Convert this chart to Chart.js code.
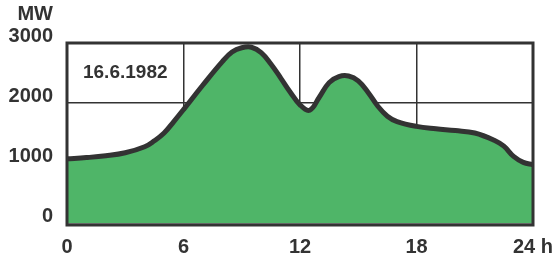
<!DOCTYPE html>
<html>
<head>
<meta charset="utf-8">
<script src="https://cdn.jsdelivr.net/npm/chart.js@4"></script>
<style>
    html, body { margin: 0; padding: 0; background: #ffffff; }
    #wrap { width: 553px; height: 261px; }
</style>
</head>
<body>
<div id="wrap"><canvas id="loadChart" width="553" height="261"></canvas></div>
<script>
// Load curve, 16.6.1982 (hours vs MW)
const hours = [0, 1, 2, 3, 4, 4.5, 5, 5.5, 6, 7, 8, 8.5, 9, 9.5, 10, 10.5, 11, 11.5, 12,
    12.5, 13, 13.5, 14, 14.5, 15, 15.5, 16, 16.5, 17, 18, 19, 20, 21, 22, 22.5, 23, 23.5, 24];
const loadMW = [1070, 1090, 1120, 1170, 1270, 1370, 1500, 1690, 1890, 2300, 2690, 2850, 2920, 2930, 2840, 2650, 2420, 2180, 1970,
    1880, 2100, 2340, 2440, 2450, 2370, 2180, 1950, 1780, 1690, 1610, 1570, 1540, 1500, 1380, 1280, 1110, 1010, 970];
const xTicks = [0, 6, 12, 18, 24];
const yTicks = [0, 1000, 2000, 3000];
const dateLabel = '16.6.1982';
const unitLabel = 'MW';

const textColor = '#333333';
const lineColor = '#333333';
const fillColor = '#4fb568';
const tickFont = { family: 'Liberation Sans', size: 20, weight: 'bold' };

// Extra labels: unit above y axis, date in the top-left box
const labelsPlugin = {
    id: 'labels',
    afterDraw(chart) {
        const ctx = chart.ctx;
        const area = chart.chartArea;
        const x = chart.scales.x;
        const y = chart.scales.y;
        ctx.save();
        ctx.fillStyle = textColor;
        ctx.font = 'bold 20px "Liberation Sans"';
        ctx.textAlign = 'right';
        ctx.textBaseline = 'middle';
        ctx.fillText(unitLabel, 53, 14);
        ctx.font = 'bold 19px "Liberation Sans"';
        ctx.textAlign = 'center';
        ctx.fillText(dateLabel, (x.getPixelForValue(0) + x.getPixelForValue(6)) / 2, (y.getPixelForValue(3000) + y.getPixelForValue(2000)) / 2);
        // frame
        ctx.strokeStyle = lineColor;
        ctx.lineWidth = 3;
        ctx.strokeRect(area.left, area.top, area.right - area.left, area.bottom - area.top + 2);
        ctx.restore();
    }
};

new Chart(document.getElementById('loadChart'), {
    type: 'line',
    data: {
        datasets: [{
            data: hours.map((h, i) => ({ x: h, y: loadMW[i] })),
            borderColor: lineColor,
            backgroundColor: fillColor,
            borderWidth: 5,
            borderJoinStyle: 'round',
            fill: 'origin',
            tension: 0.4,
            pointRadius: 0
        }]
    },
    options: {
        responsive: false,
        animation: false,
        layout: { padding: { top: 43, right: 20, left: 0, bottom: 0 } },
        plugins: {
            legend: { display: false },
            tooltip: { enabled: false }
        },
        scales: {
            x: {
                type: 'linear',
                min: 0,
                max: 24,
                afterBuildTicks: scale => { scale.ticks = xTicks.map(v => ({ value: v })); },
                afterFit: scale => {
                    scale.height = 38;
                    scale.paddingLeft = 0;
                    scale.paddingRight = 0;
                },
                grid: { color: lineColor, lineWidth: 1.5, drawTicks: false },
                border: { display: false },
                ticks: {
                    color: textColor,
                    font: tickFont,
                    padding: 12,
                    maxRotation: 0,
                    callback: v => v === 24 ? '24 h' : String(v)
                }
            },
            y: {
                min: 0,
                max: 3000,
                afterBuildTicks: scale => { scale.ticks = yTicks.map(v => ({ value: v })); },
                afterFit: scale => { scale.width = 67; },
                grid: { color: lineColor, lineWidth: 1.5, drawTicks: false },
                border: { display: false },
                ticks: {
                    color: textColor,
                    font: tickFont,
                    padding: 14,
                    labelOffset: -7,
                    callback: v => String(v)
                }
            }
        }
    },
    plugins: [labelsPlugin]
});
</script>
</body>
</html>
